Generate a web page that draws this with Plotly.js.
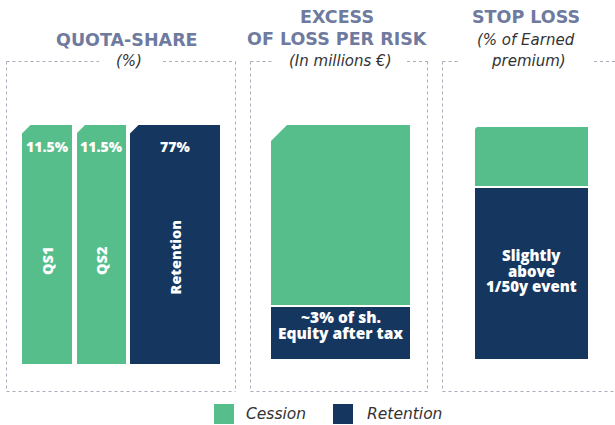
<!DOCTYPE html>
<html>
<head>
<meta charset="utf-8">
<script src="https://cdn.plot.ly/plotly-3.0.1.min.js"></script>
<style>html,body{margin:0;padding:0;background:#fff;}#chart{width:615px;height:425px;}</style>
</head>
<body>
<div id="chart"></div>
<script>
// ---------- data ----------
const panelTitles = ["QUOTA-SHARE", "EXCESS", "OF LOSS PER RISK", "STOP LOSS"];
const panelSubtitles = ["(%)", "(In millions €)", "(% of Earned", "premium)"];

const qsNames = ["QS1", "QS2", "Retention"];
const qsShare = [11.5, 11.5, 77];          // % of the portfolio
const qsHeight = [100, 100, 100];          // each tranche covers the full risk height
const qsType = ["Cession", "Cession", "Retention"];

const xlRetention = [54];                  // relative height of retained layer
const xlCession = [182];                   // relative height of ceded layer
const xlLabel = ["~3% of sh.", "Equity after tax"];

const slRetention = [173];
const slCession = [61];
const slLabel = ["Slightly", "above", "1/50y event"];

const legendNames = ["Cession", "Retention"];

// ---------- styling ----------
const GREEN = "#56BE8A", NAVY = "#15375F", TITLE = "#6F7A9F", TXT = "#333333", BOX = "#A8ADBC";
const W = 615, H = 425;
const px = x => x / W, py = y => 1 - y / H;
const colorOf = t => t === "Cession" ? GREEN : NAVY;

// panel 1 geometry (layout only)
const qsWidths = [50, 49, 90], qsGap = 4.5;
const qsX = [];
let acc = 0;
qsWidths.forEach((w, i) => { qsX.push(acc + w / 2); acc += w + (i < qsWidths.length - 1 ? qsGap : 0); });
const qsTotal = acc;

const traces = [
  { type: "bar", x: qsX, y: qsHeight, width: qsWidths, xaxis: "x", yaxis: "y",
    marker: { color: qsType.map(colorOf), line: { width: 0 } }, showlegend: false, hoverinfo: "skip" },
  { type: "bar", x: [0], y: xlRetention, width: [1], xaxis: "x2", yaxis: "y2",
    marker: { color: NAVY, line: { color: "#ffffff", width: 2 } }, showlegend: false, hoverinfo: "skip" },
  { type: "bar", x: [0], y: xlCession, width: [1], xaxis: "x2", yaxis: "y2",
    marker: { color: GREEN, line: { color: "#ffffff", width: 2 } }, showlegend: false, hoverinfo: "skip" },
  { type: "bar", x: [0], y: slRetention, width: [1], xaxis: "x3", yaxis: "y3",
    marker: { color: NAVY, line: { color: "#ffffff", width: 2 } }, showlegend: false, hoverinfo: "skip" },
  { type: "bar", x: [0], y: slCession, width: [1], xaxis: "x3", yaxis: "y3",
    marker: { color: GREEN, line: { color: "#ffffff", width: 2 } }, showlegend: false, hoverinfo: "skip" }
];

const hid = { visible: false, fixedrange: true };
const xlTotal = xlRetention[0] + xlCession[0];
const slTotal = slRetention[0] + slCession[0];

const shapes = [];
// dotted frames
function seg(x0, y0, x1, y1) {
  shapes.push({ type: "line", xref: "paper", yref: "paper", x0: px(x0), y0: py(y0), x1: px(x1), y1: py(y1),
    line: { color: BOX, width: 1, dash: "dot" } });
}
// box 1
seg(6.5, 61.5, 99, 61.5); seg(163, 61.5, 235.5, 61.5);
seg(6.5, 61.5, 6.5, 391.5); seg(235.5, 61.5, 235.5, 391.5); seg(6.5, 391.5, 235.5, 391.5);
// box 2
seg(250.5, 61.5, 272, 61.5); seg(407, 61.5, 427.5, 61.5);
seg(250.5, 61.5, 250.5, 391.5); seg(427.5, 61.5, 427.5, 391.5); seg(250.5, 391.5, 427.5, 391.5);
// box 3
seg(442.5, 61.5, 460, 61.5); seg(594, 61.5, 615, 61.5);
seg(442.5, 61.5, 442.5, 391.5); seg(442.5, 391.5, 615, 391.5);

// chamfered top-left corners
function chamfer(xr, yr, xa, ya, c) {
  shapes.push({ type: "path", xref: xr, yref: yr, xsizemode: "pixel", ysizemode: "pixel",
    xanchor: xa, yanchor: ya, path: `M -3,3 L ${c + 3},3 L -3,${-c - 3} Z`,
    fillcolor: "#ffffff", line: { width: 0 }, layer: "above" });
}
qsX.forEach((c, i) => chamfer("x", "y", c - qsWidths[i] / 2, qsHeight[i], 9));
chamfer("x2", "y2", -0.5, xlTotal, 18);
chamfer("x3", "y3", -0.5, slTotal, 4);

// legend squares
shapes.push({ type: "rect", xref: "paper", yref: "paper", x0: px(214), x1: px(234), y0: py(404), y1: py(424), fillcolor: GREEN, line: { width: 0 } });
shapes.push({ type: "rect", xref: "paper", yref: "paper", x0: px(333), x1: px(353), y0: py(404), y1: py(424), fillcolor: NAVY, line: { width: 0 } });

const TF = "Open Sans, sans-serif";
const DJ = "DejaVu Sans, sans-serif";
const ann = [];
function txt(t, x, y, font, extra) {
  ann.push(Object.assign({ text: t, x: px(x), y: py(y), xref: "paper", yref: "paper", showarrow: false,
    xanchor: "center", yanchor: "middle", font: font }, extra || {}));
}
const titleFont = { family: DJ, size: 17.5, color: TITLE, weight: 700 };
const subFont = { family: DJ, size: 15, color: TXT, style: "italic" };

// titles
txt(panelTitles[0], 126.5, 40, titleFont);
txt(panelTitles[1], 337, 17, titleFont);
txt(panelTitles[2], 337.5, 39, titleFont);
txt(panelTitles[3], 525.5, 17, titleFont);
txt(panelSubtitles[0], 129, 61, subFont);
txt(panelSubtitles[1], 340, 61, subFont);
txt(panelSubtitles[2], 526, 40, subFont);
txt(panelSubtitles[3], 528, 61, subFont);

const wFont = s => ({ family: TF, size: s, color: "#ffffff", weight: 800 });
// bar labels, panel 1 (data coordinates)
qsX.forEach((c, i) => {
  ann.push({ text: qsShare[i] + "%", x: c, y: qsHeight[i] * 0.91, xref: "x", yref: "y", showarrow: false,
    xanchor: "center", yanchor: "middle", font: wFont(14) });
  ann.push({ text: qsNames[i], x: c, y: qsHeight[i] * (i === 2 ? 0.445 : 0.43), xref: "x", yref: "y", showarrow: false,
    textangle: -90, xanchor: "center", yanchor: "middle", font: wFont(14.5) });
});
// panel 2 label
xlLabel.forEach((t, i) => {
  ann.push({ text: t, x: 0, y: xlRetention[0] * (0.79 - i * 0.29), xref: "x2", yref: "y2", showarrow: false,
    xanchor: "center", yanchor: "middle", font: wFont(15.5) });
});
// panel 3 label
slLabel.forEach((t, i) => {
  ann.push({ text: t, x: 0, y: slRetention[0] * (0.605 - i * 0.089), xref: "x3", yref: "y3", showarrow: false,
    xanchor: "center", yanchor: "middle", font: wFont(15) });
});
// legend text
const legFont = { family: DJ, size: 15.5, color: TXT, style: "italic" };
txt(legendNames[0], 244, 414, legFont, { xanchor: "left" });
txt(legendNames[1], 365, 414, legFont, { xanchor: "left" });

const layout = {
  width: W, height: H, margin: { l: 0, r: 0, t: 0, b: 0 },
  paper_bgcolor: "#ffffff", plot_bgcolor: "rgba(0,0,0,0)",
  barmode: "stack", showlegend: false,
  xaxis: Object.assign({ domain: [px(22), px(220)], range: [0, qsTotal], anchor: "y" }, hid),
  yaxis: Object.assign({ domain: [py(364), py(124.5)], range: [0, 100], anchor: "x" }, hid),
  xaxis2: Object.assign({ domain: [px(270), px(411)], range: [-0.5, 0.5], anchor: "y2" }, hid),
  yaxis2: Object.assign({ domain: [py(360), py(124)], range: [0, xlTotal], anchor: "x2" }, hid),
  xaxis3: Object.assign({ domain: [px(474), px(589)], range: [-0.5, 0.5], anchor: "y3" }, hid),
  yaxis3: Object.assign({ domain: [py(360), py(126)], range: [0, slTotal], anchor: "x3" }, hid),
  shapes: shapes, annotations: ann
};

Plotly.newPlot("chart", traces, layout, { displayModeBar: false, staticPlot: true });
</script>
</body>
</html>
